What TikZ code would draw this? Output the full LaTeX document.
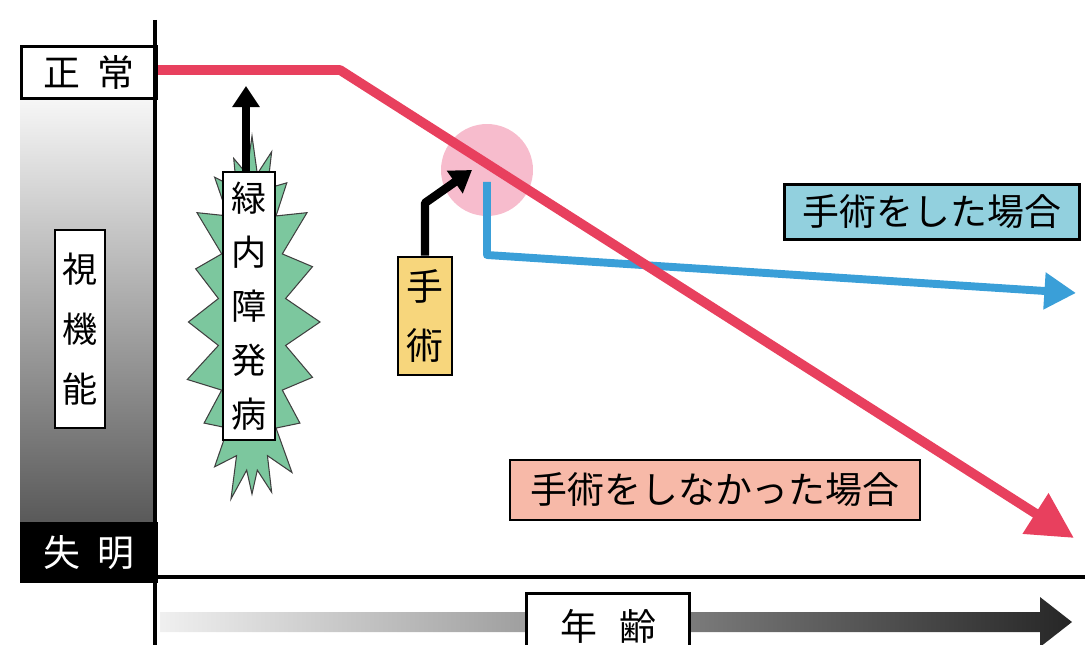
\documentclass[tikz,border=0pt]{standalone}
\usepackage{fontspec}
\newfontfamily\cjk{Noto Sans CJK JP}
\usetikzlibrary{arrows.meta}
\definecolor{redline}{HTML}{E8405E}
\definecolor{blueline}{HTML}{3A9FD8}
\definecolor{pinkc}{HTML}{F6B0C4}
\definecolor{greenb}{HTML}{7CC79E}
\definecolor{yelbox}{HTML}{F7D67C}
\definecolor{bluebox}{HTML}{92D0DE}
\definecolor{salbox}{HTML}{F7B9A8}
\begin{document}
\begin{tikzpicture}[x=0.02cm,y=-0.02cm,
  lbl/.style={draw=black, line width=1.5pt, inner sep=0pt, font=\cjk\fontsize{21}{21}\selectfont},
  vlbl/.style={lbl, align=center},
  thickarrow/.style={line width=4.8pt, -{Triangle[width=15pt,length=12pt]}},
]
\useasboundingbox (0,0) rectangle (1085,645);
% left gradient scale
\shade[top color=gray!6, bottom color=gray!70!black] (20,97) rectangle (155,522);
\node[lbl, fill=white, minimum width=2.7cm, minimum height=1.04cm, anchor=north west] (normal) at (20,45) {正\hspace{0.45em}常};
\node[lbl, fill=black, text=white, minimum width=2.7cm, minimum height=1.16cm, anchor=north west] (blind) at (20,522) {失\hspace{0.45em}明};
\node[vlbl, fill=white, minimum width=1.0cm, minimum height=3.96cm, font=\cjk\fontsize{20}{34}\selectfont] (vision) at (80,329) {視\\機\\能};
% axes
\coordinate (ytop) at (155,20);
\coordinate (ybot) at (155,645);
\coordinate (xleft) at (155,577);
\coordinate (xright) at (1085,577);
\draw[line width=2.6pt] (ytop) -- (ybot);
\draw[line width=2pt] (xleft) -- (xright);
% age arrow
\shade[left color=gray!12, right color=black!85] (160,612) -- (1040,612) -- (1040,597) -- (1072,622) -- (1040,647) -- (1040,632) -- (160,632) -- cycle;
\node[lbl, fill=white, minimum width=3.26cm, minimum height=1.3cm] (age) at (608,626) {年\hspace{0.6em}齢};
% pink circle
\fill[pinkc, opacity=0.85] (487,170) circle (0.92cm);
% blue line (with surgery)
\coordinate (bstart) at (487,182);
\coordinate (bcorner) at (487,255);
\coordinate (bend) at (1076,293);
\draw[blueline, line width=4.5pt, line join=round, -{Triangle[width=20pt,length=18pt]}] (bstart) -- (bcorner) -- (bend);
% red line (without surgery)
\coordinate (r0) at (158,70);
\coordinate (r1) at (340,70);
\coordinate (r2) at (1074,538);
\draw[redline, line width=5.5pt, line join=round, -{Triangle[width=26pt,length=26pt]}] (r0) -- (r1) -- (r2);
% starburst
\foreach \i in {0,...,39} {
  \pgfmathsetmacro\srx{34 + mod(\i+1,2)*(34 - 2.2*mod(\i,6))}
  \pgfmathsetmacro\sry{150 + mod(\i+1,2)*(36 - 3.5*mod(\i,6))}
  \pgfmathsetmacro\sang{\i*9}
  \coordinate (s\i) at ({252+\srx*cos(\sang)}, {322+\sry*sin(\sang)});
}
\filldraw[fill=greenb, draw=black!75, line width=0.6pt]
  (s0) \foreach \i in {1,...,39} { -- (s\i) } -- cycle;
\node[vlbl, fill=white, minimum width=1.04cm, minimum height=5.36cm, font=\cjk\fontsize{20}{30.7}\selectfont] (glaucoma) at (249,306) {緑\\内\\障\\発\\病};
\coordinate (gtip) at (246,86);
\draw[thickarrow] (glaucoma.north -| gtip) -- (gtip);
% surgery label and arrow
\node[vlbl, fill=yelbox, minimum width=1.08cm, minimum height=2.36cm, font=\cjk\fontsize{21}{34}\selectfont] (surgery) at (425,316) {手\\術};
\coordinate (sbend) at (425,203);
\coordinate (stip) at (472,170);
\draw[thickarrow, line join=round] (surgery.north) -- (sbend) -- (stip);
% outcome labels
\node[lbl, fill=bluebox, minimum width=5.9cm, minimum height=1.1cm] (withop) at (932,212) {手術をした場合};
\node[lbl, fill=salbox, minimum width=8.2cm, minimum height=1.2cm] (withoutop) at (715,490) {手術をしなかった場合};
\end{tikzpicture}
\end{document}
